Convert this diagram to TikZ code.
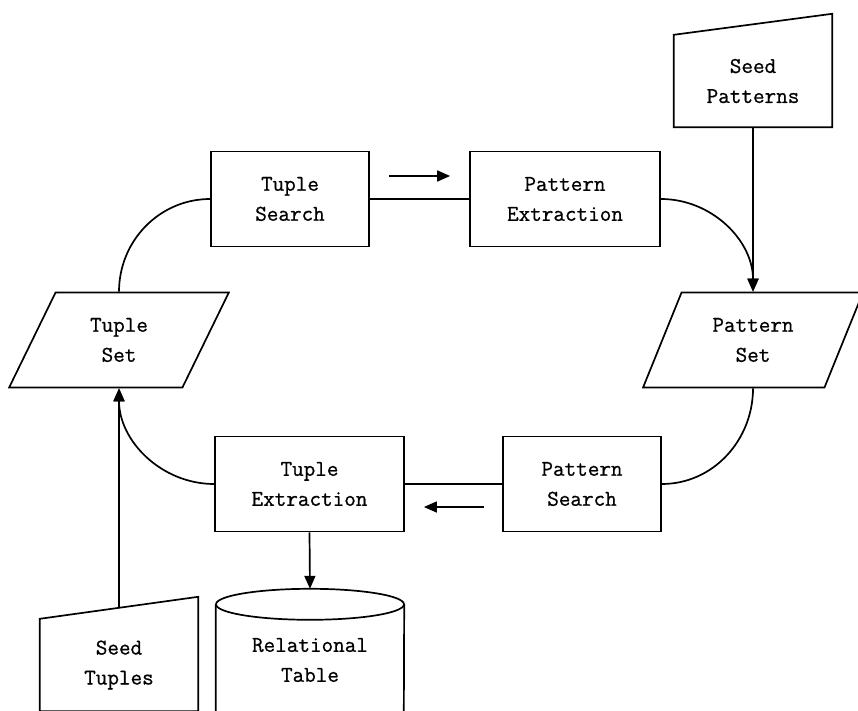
\documentclass[tikz,border=0pt]{standalone}
\usepackage{fontspec}
\usepackage{tikz}
\usetikzlibrary{positioning,shapes,arrows.meta}
\newfontfamily\labelfont{Latin Modern Mono}[FakeBold=0.8]
\tikzstyle{process}=[rectangle, draw=black, line width=1.7pt, align=center, text=black, minimum height=95pt]
\tikzstyle{dataset}=[trapezium, trapezium left angle=65, trapezium right angle=115, trapezium stretches=true, draw=black, line width=1.7pt, align=center, text=black, minimum height=95pt, minimum width=220pt]
\tikzstyle{seed}=[rectangle, align=center, text=black, minimum width=158pt, minimum height=92pt]
\tikzstyle{flow}=[draw=black, line width=1.7pt]
\tikzstyle{arr}=[flow, -{Triangle[length=13pt,width=11pt]}]

\begin{document}
\begin{tikzpicture}[x=1pt, y=1pt, font=\labelfont\fontsize{22.5}{30}\selectfont]
        \useasboundingbox (0,0) rectangle (858,710);
        \clip (0,0) rectangle (858,710);
        \node(tuplesearch)[process, minimum width=158pt] at (290,511){
            Tuple\\Search
        };
        \node(patternext)[process, minimum width=190pt] at (565,511){
            Pattern\\Extraction
        };
        \node(tupleset)[dataset] at (119,370){
            Tuple\\Set
        };
        \node(patternset)[dataset] at (753,370){
            Pattern\\Set
        };
        \node(tupleext)[process, minimum width=189pt] at (309.5,226){
            Tuple\\Extraction
        };
        \node(patternsearch)[process, minimum width=158pt] at (582,226){
            Pattern\\Search
        };
        \node(seedpat)[seed] at (753,629){
            Seed\\Patterns
        };
        \node(seedtup)[seed] at (119,45){
            Seed\\Tuples
        };
        \node(reltable)[rectangle, align=center, minimum width=188pt, minimum height=142pt] at (310,50){
            Relational\\Table
        };
        % manual input boxes
        \draw[flow] (seedpat.south west) -- (seedpat.north west) -- ([yshift=21pt]seedpat.north east) -- (seedpat.south east) -- cycle;
        \draw[flow] (seedtup.south west) -- (seedtup.north west) -- ([yshift=22pt]seedtup.north east) -- (seedtup.south east) -- cycle;
        % database
        \draw[flow] ([yshift=-15.5pt]reltable.north west) -- ([yshift=15.5pt]reltable.south west) arc[start angle=180, end angle=360, x radius=94pt, y radius=15.5pt] -- ([yshift=-15.5pt]reltable.north east);
        \draw[flow] ([yshift=-15.5pt]reltable.north) ellipse [x radius=94pt, y radius=15.5pt];

        \draw[flow] (tuplesearch.east) -- (patternext.west);
        \draw[flow] (tupleext.east) -- (patternsearch.west);
        \draw[arr] ([xshift=19pt,yshift=23pt]tuplesearch.east) -- ([xshift=-19pt,yshift=23pt]patternext.west);
        \draw[arr] ([xshift=-18pt,yshift=-23pt]patternsearch.west) -- ([xshift=19pt,yshift=-23pt]tupleext.east);

        \draw[flow] (tupleset.north) to[out=90,in=180] (tuplesearch.west);
        \draw[arr] (patternext.east) to[out=0,in=90] (patternset.north);
        \draw[flow] (patternset.south) to[out=-90,in=0] (patternsearch.east);
        \draw[arr] (tupleext.west) to[out=180,in=-90] (tupleset.south);
        \draw[arr] (seedpat.south) -- (patternset.north);
        \draw[arr] ([yshift=11pt]seedtup.north) -- (tupleset.south);
        \draw[arr] (tupleext.south) -- (reltable.north);
    \end{tikzpicture}
\end{document}
